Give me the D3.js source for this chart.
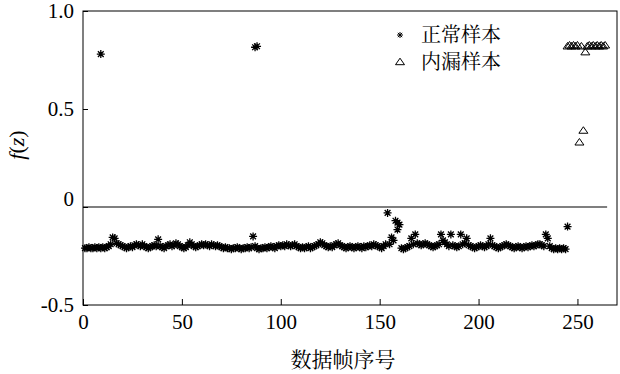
<!DOCTYPE html>
<html>
<head>
<meta charset="utf-8">
<script src="https://cdn.jsdelivr.net/npm/d3@7"></script>
</head>
<body style="margin:0">
<svg width="620" height="374">
<text x="343" y="359" dy="0.36em" text-anchor="middle" font-family="Noto Serif CJK SC" font-size="21">数据帧序号</text>
<text transform="translate(17, 145) rotate(-90)" dy="0.32em" text-anchor="middle" font-family="Liberation Serif" font-size="22"><tspan font-style="italic">f</tspan>(<tspan font-style="italic">z</tspan>)</text>
</svg>
<script>
// Normal samples: one value per frame 1..245
const normalValues = [
  -0.21, -0.21, -0.205, -0.21, -0.21, -0.205, -0.21, -0.205, -0.21, -0.205,
  -0.21, -0.205, -0.2, -0.19, -0.155, -0.16, -0.185, -0.19, -0.195, -0.2,
  -0.205, -0.21, -0.205, -0.2, -0.205, -0.195, -0.19, -0.195, -0.2, -0.19,
  -0.2, -0.205, -0.21, -0.205, -0.2, -0.195, -0.2, -0.165, -0.2, -0.205,
  -0.21, -0.2, -0.195, -0.19, -0.2, -0.195, -0.185, -0.19, -0.2, -0.205,
  -0.21, -0.205, -0.195, -0.18, -0.19, -0.2, -0.205, -0.2, -0.195, -0.19,
  -0.195, -0.19, -0.195, -0.2, -0.19, -0.195, -0.2, -0.195, -0.2, -0.205,
  -0.21, -0.205, -0.21, -0.21, -0.215, -0.21, -0.21, -0.205, -0.21, -0.215,
  -0.21, -0.21, -0.205, -0.21, -0.205, -0.15, -0.2, -0.21, -0.215, -0.21,
  -0.21, -0.205, -0.21, -0.205, -0.2, -0.205, -0.21, -0.2, -0.195, -0.2,
  -0.195, -0.2, -0.19, -0.195, -0.2, -0.195, -0.19, -0.2, -0.205, -0.21,
  -0.205, -0.21, -0.205, -0.2, -0.21, -0.205, -0.2, -0.195, -0.19, -0.18,
  -0.185, -0.195, -0.2, -0.205, -0.2, -0.205, -0.195, -0.19, -0.185, -0.195,
  -0.2, -0.205, -0.21, -0.205, -0.2, -0.205, -0.21, -0.205, -0.2, -0.205,
  -0.21, -0.2, -0.205, -0.2, -0.195, -0.2, -0.19, -0.195, -0.2, -0.205,
  -0.21, -0.2, -0.19, -0.03, -0.19, -0.155, -0.17, -0.07, -0.08, -0.09,
  -0.21, -0.215, -0.21, -0.205, -0.2, -0.16, -0.19, -0.14, -0.185, -0.19,
  -0.195, -0.19, -0.185, -0.19, -0.195, -0.2, -0.205, -0.2, -0.195, -0.19,
  -0.14, -0.17, -0.18, -0.19, -0.2, -0.14, -0.195, -0.2, -0.205, -0.2,
  -0.14, -0.19, -0.185, -0.16, -0.195, -0.2, -0.205, -0.21, -0.205, -0.2,
  -0.195, -0.2, -0.205, -0.2, -0.19, -0.16, -0.195, -0.2, -0.205, -0.21,
  -0.205, -0.2, -0.195, -0.19, -0.195, -0.2, -0.205, -0.21, -0.205, -0.2,
  -0.205, -0.21, -0.205, -0.2, -0.205, -0.2, -0.195, -0.2, -0.195, -0.19,
  -0.19, -0.195, -0.2, -0.14, -0.16, -0.2, -0.21, -0.215, -0.21, -0.215,
  -0.21, -0.215, -0.21, -0.215, -0.1
];

// Extra normal-sample points sharing a frame with the ones above
const normalExtraX = [9, 87, 88, 159];
const normalExtraY = [0.78, 0.815, 0.82, -0.115];

// Leak samples
const leakX = [245, 246, 247, 248, 249, 250, 251, 252, 253, 254,
               255, 256, 257, 258, 259, 260, 261, 262, 263, 264];
const leakY = [0.82, 0.825, 0.82, 0.825, 0.82, 0.825, 0.33, 0.82, 0.39, 0.79,
               0.82, 0.825, 0.82, 0.825, 0.82, 0.825, 0.82, 0.825, 0.82, 0.825];

// Threshold line
const thresholdX = [0, 265];
const thresholdY = [0, 0];

const xTicks = [0, 50, 100, 150, 200, 250];
const yTicks = [-0.5, 0, 0.5, 1.0];
const yTickLabels = ["-0.5", "0", "0.5", "1.0"];
const legendLabels = ["正常样本", "内漏样本"];

const svg = d3.select("svg");
const margin = { top: 11, right: 3, bottom: 69, left: 83 };
const width = +svg.attr("width") - margin.left - margin.right;
const height = +svg.attr("height") - margin.top - margin.bottom;
const g = svg.append("g").attr("transform", `translate(${margin.left}, ${margin.top})`);

const xScale = d3.scaleLinear().domain([0, 270]).range([0, width]);
const yScale = d3.scaleLinear().domain([-0.5, 1.0]).range([height, 0]);

// Axes with inward ticks
g.append("g")
  .attr("class", "x-axis")
  .attr("transform", `translate(0, ${height})`)
  .call(d3.axisBottom(xScale).tickValues(xTicks).tickFormat(d3.format("d"))
    .tickSizeInner(-6).tickSizeOuter(0).tickPadding(9))
  .call(a => a.select(".domain").remove());

g.append("g")
  .attr("class", "y-axis")
  .call(d3.axisLeft(yScale).tickValues(yTicks).tickFormat((d, i) => yTickLabels[i])
    .tickSizeInner(-5).tickSizeOuter(0).tickPadding(9))
  .call(a => a.select(".domain").remove())
  .call(a => a.selectAll(".tick text").filter(d => d === 0).attr("dy", "-0.05em"));

g.selectAll(".x-axis, .y-axis").attr("font-family", "Liberation Serif").attr("font-size", 21);
g.selectAll(".tick text").attr("fill", "#000");
g.selectAll(".tick line").attr("stroke", "#000");

// Frame
g.append("rect")
  .attr("width", width)
  .attr("height", height)
  .attr("fill", "none")
  .attr("stroke", "#000");

// Threshold line
g.append("path")
  .datum(d3.zip(thresholdX, thresholdY))
  .attr("fill", "none")
  .attr("stroke", "#000")
  .attr("stroke-width", 1.2)
  .attr("d", d3.line().x(d => xScale(d[0])).y(d => yScale(d[1])));

// Marker shapes
const starPath = (r) => {
  const k = r * 0.72;
  return `M${-r},0H${r}M0,${-r}V${r}M${-k},${-k}L${k},${k}M${-k},${k}L${k},${-k}`;
};
const triPath = (s) => `M0,${-s * 0.85}L${s},${s * 0.6}L${-s},${s * 0.6}Z`;

const normalPts = normalValues.map((v, i) => [i + 1, v])
  .concat(d3.zip(normalExtraX, normalExtraY));

g.append("g")
  .selectAll("path")
  .data(normalPts)
  .join("path")
  .attr("transform", d => `translate(${xScale(d[0])}, ${yScale(d[1])})`)
  .attr("d", starPath(4))
  .attr("fill", "none")
  .attr("stroke", "#000")
  .attr("stroke-width", 1.3);

g.append("g")
  .selectAll("path")
  .data(d3.zip(leakX, leakY))
  .join("path")
  .attr("transform", d => `translate(${xScale(d[0])}, ${yScale(d[1])})`)
  .attr("d", triPath(4.5))
  .attr("fill", "none")
  .attr("stroke", "#000");

// Legend
const legend = svg.append("g").attr("transform", "translate(400, 35)");
legend.append("path").attr("d", starPath(3)).attr("fill", "none").attr("stroke", "#000");
legend.append("path").attr("transform", "translate(0, 27)").attr("d", triPath(4.5))
  .attr("fill", "none").attr("stroke", "#000");
legend.selectAll("text")
  .data(legendLabels)
  .join("text")
  .attr("x", 21)
  .attr("y", (d, i) => i * 27)
  .attr("dy", "0.36em")
  .attr("font-family", "Noto Serif CJK SC")
  .attr("font-size", 20)
  .text(d => d);
</script>
</body>
</html>
